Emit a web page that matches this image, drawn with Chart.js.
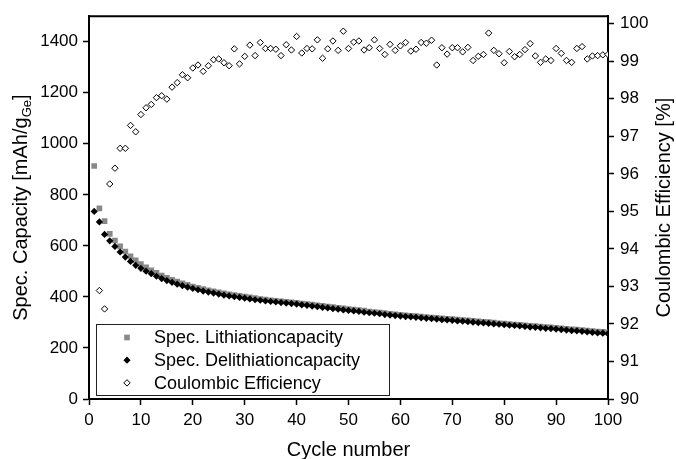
<!DOCTYPE html>
<html>
<head>
<meta charset="utf-8">
<script src="https://cdn.jsdelivr.net/npm/chart.js@4/dist/chart.umd.min.js"></script>
<style>
  html, body { margin: 0; padding: 0; background: #fff; }
</style>
</head>
<body>
<canvas id="capChart" width="676" height="459"></canvas>
<script>
const cycles = [1,2,3,4,5,6,7,8,9,10,11,12,13,14,15,16,17,18,19,20,
  21,22,23,24,25,26,27,28,29,30,31,32,33,34,35,36,37,38,39,40,
  41,42,43,44,45,46,47,48,49,50,51,52,53,54,55,56,57,58,59,60,
  61,62,63,64,65,66,67,68,69,70,71,72,73,74,75,76,77,78,79,80,
  81,82,83,84,85,86,87,88,89,90,91,92,93,94,95,96,97,98,99,100];

const lithiation = [913,747,697,647,621,598,578,559,543,529,
  516,504,494,484,475,467,460,453,447,441,
  436,431,426,422,418,414,410,407,404,401,
  398,395,392,390,387,385,383,381,379,377,
  374,372,370,367,365,362,360,357,355,352,
  350,348,346,343,341,339,337,334,332,330,
  328,326,325,323,321,319,318,316,314,313,
  311,309,308,306,304,302,301,299,297,296,
  294,292,291,289,287,286,284,282,281,279,
  277,275,273,272,270,268,266,264,263,261];

const delithiation = [735,694,645,620,598,576,556,539,524,512,
  501,491,481,472,464,457,450,444,438,433,
  428,423,419,415,411,407,404,401,398,395,
  392,389,387,384,382,380,378,376,374,372,
  369,367,364,362,359,357,354,352,349,347,
  345,343,340,338,336,334,331,329,327,325,
  323,322,320,318,316,315,313,311,310,308,
  306,305,303,301,299,298,296,294,293,291,
  289,288,286,284,282,281,279,277,276,274,
  272,270,268,267,265,263,261,259,258,256];

const coulombicEff = [null,92.89,92.40,95.73,96.15,96.68,96.68,97.29,97.12,97.58,
  97.76,97.85,98.03,98.08,97.99,98.31,98.43,98.64,98.56,98.82,
  98.90,98.73,98.88,99.04,99.06,98.96,98.88,99.33,98.93,99.13,
  99.43,99.15,99.50,99.34,99.34,99.32,99.15,99.44,99.30,99.66,
  99.22,99.34,99.33,99.57,99.08,99.33,99.54,99.29,99.80,99.34,
  99.51,99.54,99.30,99.36,99.57,99.34,99.18,99.45,99.29,99.41,
  99.50,99.27,99.32,99.50,99.48,99.56,98.90,99.36,99.19,99.36,
  99.36,99.25,99.37,99.02,99.13,99.18,99.75,99.29,99.20,98.96,
  99.26,99.12,99.18,99.31,99.47,99.14,98.97,99.06,99.02,99.34,
  99.21,99.02,98.97,99.34,99.39,99.06,99.14,99.15,99.17,99.18];

const capTicks = [0,200,400,600,800,1000,1200,1400];
const ceTicks = [90,91,92,93,94,95,96,97,98,99,100];

const FONT = 'Arial, "Liberation Sans", sans-serif';

// axis titles (left one has a subscript) and the boxed legend are drawn by hand
const decorations = {
  id: 'decorations',
  afterDraw(chart) {
    const { ctx, chartArea } = chart;
    const { left, right, top, bottom } = chartArea;
    const midY = (top + bottom) / 2;
    ctx.save();

    // top frame line
    ctx.strokeStyle = '#000';
    ctx.lineWidth = 2;
    ctx.beginPath();
    ctx.moveTo(left - 1, top);
    ctx.lineTo(right + 1, top);
    ctx.stroke();

    ctx.fillStyle = '#000';
    ctx.textBaseline = 'alphabetic';

    // x title
    ctx.font = '20px ' + FONT;
    ctx.textAlign = 'center';
    ctx.fillText(chart.options.scales.x.title.text, (left + right) / 2, 456);

    // left title with subscript
    const yTitle = chart.options.scales.y.title.text; // [main, sub, tail]
    ctx.save();
    ctx.translate(27, midY);
    ctx.rotate(-Math.PI / 2);
    ctx.textAlign = 'left';
    ctx.font = '20px ' + FONT;
    const w1 = ctx.measureText(yTitle[0]).width;
    const w3 = ctx.measureText(yTitle[2]).width;
    ctx.font = '13px ' + FONT;
    const w2 = ctx.measureText(yTitle[1]).width;
    let sx = -(w1 + w2 + w3) / 2;
    ctx.font = '20px ' + FONT;
    ctx.fillText(yTitle[0], sx, 0);
    ctx.font = '13px ' + FONT;
    ctx.fillText(yTitle[1], sx + w1, 4);
    ctx.font = '20px ' + FONT;
    ctx.fillText(yTitle[2], sx + w1 + w2, 0);
    ctx.restore();

    // right title
    ctx.save();
    ctx.translate(670, midY);
    ctx.rotate(-Math.PI / 2);
    ctx.textAlign = 'center';
    ctx.font = '20px ' + FONT;
    ctx.fillText(chart.options.scales.y1.title.text, 0, 0);
    ctx.restore();

    // legend box
    const bx = left + 7, by = bottom - 75, bw = 293, bh = 71;
    ctx.fillStyle = '#fff';
    ctx.fillRect(bx, by, bw, bh);
    ctx.strokeStyle = '#222';
    ctx.lineWidth = 1;
    ctx.strokeRect(bx + 0.5, by + 0.5, bw, bh);

    ctx.font = '18px ' + FONT;
    ctx.textAlign = 'left';
    ctx.textBaseline = 'middle';
    chart.data.datasets.forEach((ds, i) => {
      const cy = by + 13.5 + i * 22.7;
      const mx = bx + 31;
      ctx.beginPath();
      if (ds.pointStyle === 'rect') {
        const s = ds.pointRadius * Math.SQRT1_2;
        ctx.rect(mx - s, cy - s, 2 * s, 2 * s);
      } else {
        const r = ds.pointRadius;
        ctx.moveTo(mx - r, cy);
        ctx.lineTo(mx, cy - r);
        ctx.lineTo(mx + r, cy);
        ctx.lineTo(mx, cy + r);
        ctx.closePath();
      }
      ctx.fillStyle = ds.pointBackgroundColor;
      ctx.fill();
      if (ds.pointBorderWidth) {
        ctx.strokeStyle = ds.pointBorderColor;
        ctx.lineWidth = ds.pointBorderWidth;
        ctx.stroke();
      }
      ctx.fillStyle = '#000';
      ctx.fillText(ds.label, bx + 58, cy + 1);
    });
    ctx.restore();
  }
};

const axisLook = {
  border: { display: true, color: '#000', width: 2 },
  grid: { drawOnChartArea: false, drawTicks: true, tickLength: 6, tickWidth: 1.5, tickColor: '#000' }
};

const plain = v => String(v);

new Chart(document.getElementById('capChart'), {
  type: 'line',
  data: {
    labels: cycles,
    datasets: [
      {
        label: 'Spec. Lithiationcapacity',
        data: lithiation,
        yAxisID: 'y',
        showLine: false,
        pointStyle: 'rect',
        pointRadius: 4,
        pointBackgroundColor: '#888888',
        pointBorderColor: '#888888',
        pointBorderWidth: 0,
        order: 3
      },
      {
        label: 'Spec. Delithiationcapacity',
        data: delithiation,
        yAxisID: 'y',
        showLine: false,
        pointStyle: 'rectRot',
        pointRadius: 3.6,
        pointBackgroundColor: '#000',
        pointBorderColor: '#000',
        pointBorderWidth: 0,
        order: 2
      },
      {
        label: 'Coulombic Efficiency',
        data: coulombicEff,
        yAxisID: 'y1',
        showLine: false,
        pointStyle: 'rectRot',
        pointRadius: 3.2,
        pointBackgroundColor: '#fff',
        pointBorderColor: '#000',
        pointBorderWidth: 1,
        order: 1
      }
    ]
  },
  options: {
    responsive: false,
    animation: false,
    devicePixelRatio: 1,
    layout: { padding: { top: 16, left: 0, right: 0, bottom: 0 } },
    plugins: { legend: { display: false }, tooltip: { enabled: false } },
    scales: {
      x: {
        type: 'linear',
        min: 0,
        max: 100,
        ...axisLook,
        ticks: { stepSize: 10, color: '#000', padding: 5, callback: plain, font: { size: 17, family: FONT } },
        title: { display: false, text: 'Cycle number' },
        afterFit(s) { s.height = 60; }
      },
      y: {
        position: 'left',
        min: 0,
        max: 1500,
        ...axisLook,
        ticks: { color: '#000', padding: 5, callback: plain, font: { size: 17, family: FONT } },
        afterBuildTicks(s) { s.ticks = capTicks.map(v => ({ value: v })); },
        title: { display: false, text: ['Spec. Capacity [mAh/g', 'Ge', ']'] },
        afterFit(s) { s.width = 89; }
      },
      y1: {
        position: 'right',
        min: 90,
        max: 100.2,
        ...axisLook,
        ticks: { color: '#000', padding: 6, callback: plain, font: { size: 17, family: FONT } },
        afterBuildTicks(s) { s.ticks = ceTicks.map(v => ({ value: v })); },
        title: { display: false, text: 'Coulombic Efficiency [%]' },
        afterFit(s) { s.width = 68; }
      }
    }
  },
  plugins: [decorations]
});
</script>
</body>
</html>
